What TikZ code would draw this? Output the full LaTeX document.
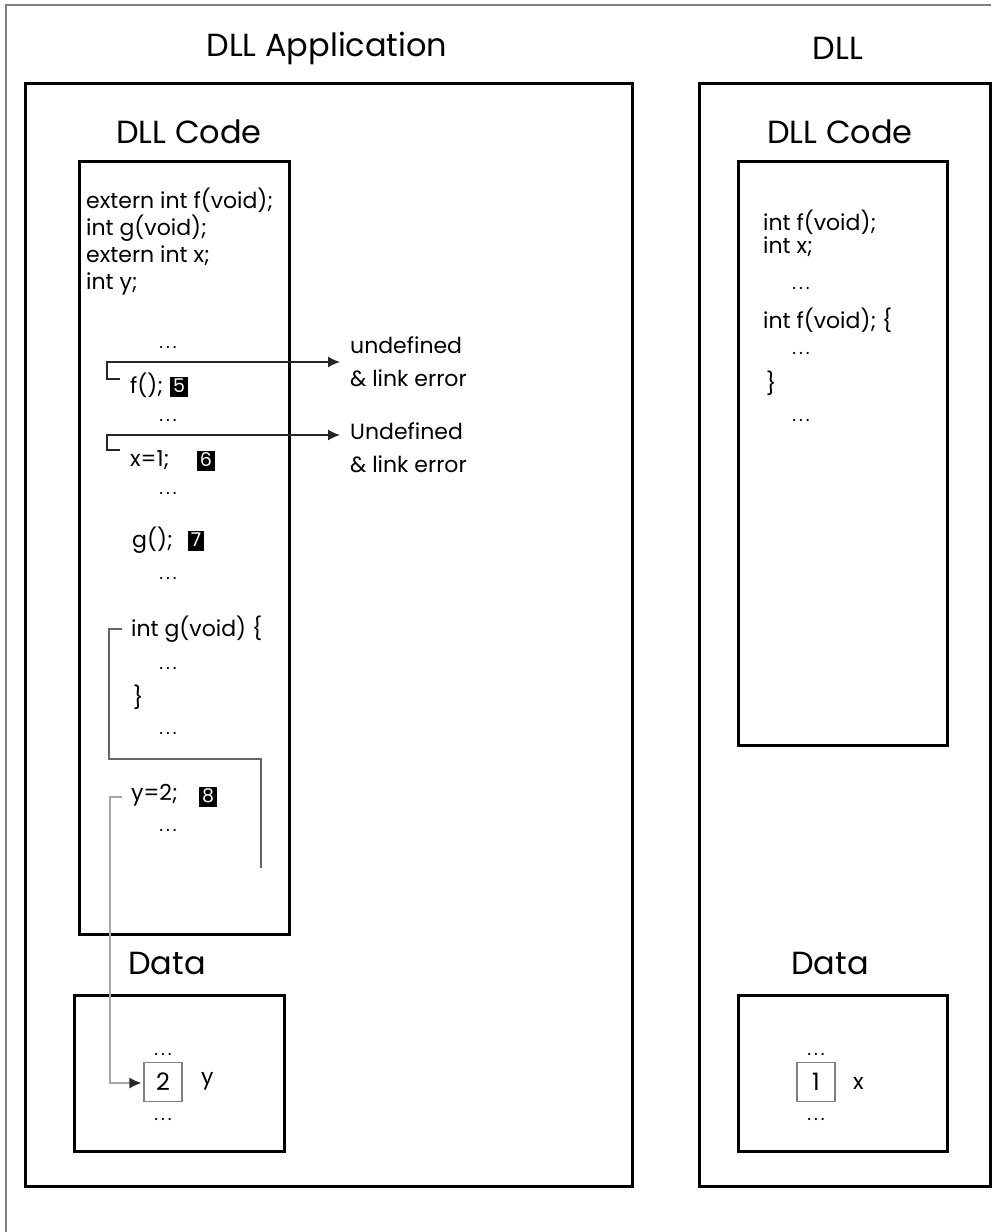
\documentclass[tikz,border=0pt]{standalone}
\usepackage{fontspec}
\setmainfont{Poppins}
\usetikzlibrary{arrows.meta}
\begin{document}
\begin{tikzpicture}[x=1pt,y=-1pt,>={Latex[length=12pt,width=11pt]},
  box/.style={draw,line width=3pt},
  title/.style={font=\fontsize{32}{32}\selectfont},
  code/.style={anchor=west,inner sep=0pt,font=\fontsize{22}{33}\selectfont},
  dots/.style={inner sep=0pt,font=\fontsize{18}{18}\selectfont},
  badge/.style={fill=black,text=white,inner xsep=3pt,inner ysep=0pt,
    text height=15pt,text depth=5pt,font=\fontsize{19}{19}\selectfont},
  cell/.style={draw=gray,line width=1.2pt,inner sep=0pt,minimum width=38pt,
    minimum height=39pt,font=\fontsize{24}{24}\selectfont},
  conn/.style={line width=1.4pt}]
  \useasboundingbox (0,0) rectangle (991,1232);
  \draw[gray,line width=2pt] (6,1232) -- (6,5) -- (991,5);

  % outer and inner boxes
  \draw[box] (25,83) rectangle (632,1186);
  \draw[box] (699,83) rectangle (990,1186);
  \draw[box] (79,161) rectangle (289,934);
  \draw[box] (74,995) rectangle (284,1151);
  \draw[box] (738,161) rectangle (947,745);
  \draw[box] (738,995) rectangle (947,1151);

  \node[title] (app) at (327,48) {DLL Application};
  \node[title] (dll) at (838,48) {DLL};
  \node[title] (appcode) at (189,132) {DLL Code};
  \node[title] (dllcode) at (840,132) {DLL Code};
  \node[title] (appdata) at (167,963) {Data};
  \node[title] (dlldata) at (830,963) {Data};

  % application code
  \foreach \t [count=\i] in {extern int f(void);,int g(void);,extern int x;,int y;}
  \node[code] (decl\i) at (86,{172+28*\i}) {\t};
  \foreach \y [count=\i] in {347,420,493,578,668,733,830}
  \node[dots] (adots\i) at (168,\y) {.\hspace{3pt}.\hspace{3pt}.};
  \node[code] (fcall) at (130,385) {f();}; \node[badge] (b5) at (179,387) {5};
  \node[code] (xset) at (130,460) {x=1;}; \node[badge] (b6) at (206,461) {6};
  \node[code] (gcall) at (132,540) {g();}; \node[badge] (b7) at (196,541) {7};
  \node[code] (gdef) at (131,629) {int g(void) \{};
  \node[code] (gend) at (133,697) {\}};
  \node[code] (yset) at (131,795) {y=2;}; \node[badge] (b8) at (208,797) {8};

  \node[code,align=left] (undef1) at (350,362) {undefined\\\& link error};
  \node[code,align=left] (undef2) at (350,448) {Undefined\\\& link error};

  % dll code
  \node[code] (fdecl) at (763,222) {int f(void);};
  \node[code] (xdecl) at (763,247) {int x;};
  \node[code] (fdef) at (763,320) {int f(void); \{};
  \node[code] (fend) at (766,383) {\}};
  \foreach \y [count=\i] in {288,353,420}
  \node[dots] (bdots\i) at (801,\y) {.\hspace{3pt}.\hspace{3pt}.};

  % data cells
  \node[cell] (ycell) at (163,1082) {2}; \node[code] (ylab) at (201,1081) {y};
  \node[dots] at (163,1054) {.\hspace{3pt}.\hspace{3pt}.};
  \node[dots] at (163,1119) {.\hspace{3pt}.\hspace{3pt}.};
  \node[cell] (xcell) at (816,1082) {1}; \node[code] (xlab) at (853,1083) {x};
  \node[dots] at (816,1054) {.\hspace{3pt}.\hspace{3pt}.};
  \node[dots] at (816,1119) {.\hspace{3pt}.\hspace{3pt}.};

  % connectors
  \coordinate (fa) at (120,379); \coordinate (fb) at (107,362); \coordinate (fe) at (340,362);
  \coordinate (xa) at (120,450); \coordinate (xb) at (107,435); \coordinate (xe) at (340,435);
  \draw[conn,->,black!85] (fa) -| (fb) -- (fe);
  \draw[conn,->,black!85] (xa) -| (xb) -- (xe);
  \coordinate (ga) at (122,629); \coordinate (gb) at (109,759); \coordinate (ge) at (261,868);
  \draw[conn,black!60] (ga) -| (gb) -| (ge);
  \coordinate (ya) at (122,797); \coordinate (yb) at (110,1083);
  \draw[conn,-{Latex[length=12pt,width=11pt,color=black!85]},black!35,shorten >=2pt]
    (ya) -| (yb) -- (ycell.west |- yb);
\end{tikzpicture}
\end{document}
